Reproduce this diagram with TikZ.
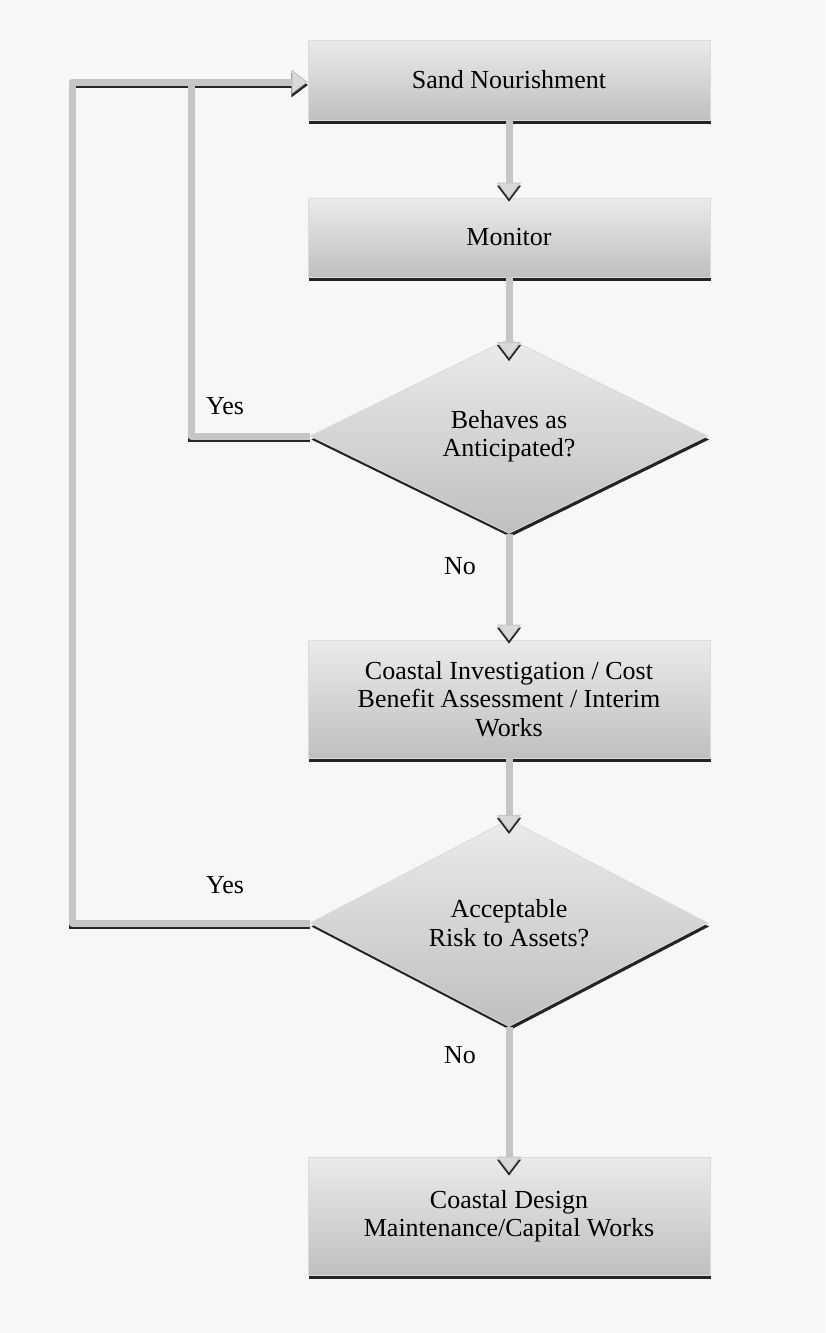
\documentclass[tikz,border=0pt]{standalone}
\usepackage{fontspec}
\setmainfont{Liberation Serif}
\usetikzlibrary{shapes.geometric,arrows.meta,shadows}
\begin{document}
\begin{tikzpicture}[x=1pt,y=-1pt,
  boxshade/.style={top color=gray!16, bottom color=gray!50, draw=gray!28, line width=0.8pt,
    drop shadow={shadow xshift=1.2pt, shadow yshift=-3.5pt, opacity=0.85, fill=black}},
  procbox/.style={boxshade, rectangle, minimum width=402pt, align=center,
    font=\fontsize{26}{28.5}\selectfont, inner sep=0pt},
  decision/.style={boxshade, diamond, minimum width=398pt, minimum height=195pt, align=center,
    font=\fontsize{26}{28.5}\selectfont, inner sep=0pt},
  conn/.style={line width=7pt, draw=gray!45, line join=round,
    -{Triangle[length=16pt,width=24pt,line width=1pt,fill=gray!30]},
    preaction={draw=black!85, line width=6pt, transform canvas={yshift=-3pt},
      -{Triangle[length=16pt,width=24pt,line width=1pt,fill=black!85]}}},
  lbl/.style={font=\fontsize{26}{28}\selectfont, inner sep=0pt}
]
\fill[white!97!black] (0,0) rectangle (825,1333);

\node[procbox, minimum height=80pt] (sand) at (509,80) {Sand Nourishment};
\node[procbox, minimum height=79pt] (mon) at (509,237.5) {Monitor};
\node[decision] (dec1) at (509,436) {Behaves as\\Anticipated?};
\node[procbox, minimum height=118pt] (inv) at (509,699) {Coastal Investigation / Cost\\Benefit Assessment / Interim\\Works};
\node[decision] (dec2) at (509,923) {Acceptable\\Risk to Assets?};
\node[procbox, minimum height=118pt] (des) at (509,1216) {Coastal Design\\Maintenance/Capital Works};

\coordinate (c2) at (72,82);
\coordinate (c1) at (191,82);

\draw[conn] (dec2.west) -| (c2) -- (sand.west |- c2);
\draw[conn] (dec1.west) -| (c1) -- (sand.west |- c1);

\draw[conn] (sand.south) -- ([yshift=-1pt]mon.north);
\draw[conn] (mon.south) -- ([yshift=-20pt]dec1.north);
\draw[conn] (dec1.south) -- ([yshift=-1pt]inv.north);
\draw[conn] (inv.south) -- ([yshift=-12pt]dec2.north);
\draw[conn] (dec2.south) -- ([yshift=-16pt]des.north);

\node[lbl] (yes1) at (225,406) {Yes};
\node[lbl] (yes2) at (225,885) {Yes};
\node[lbl] (no1) at (460,566) {No};
\node[lbl] (no2) at (460,1055) {No};
\end{tikzpicture}
\end{document}
